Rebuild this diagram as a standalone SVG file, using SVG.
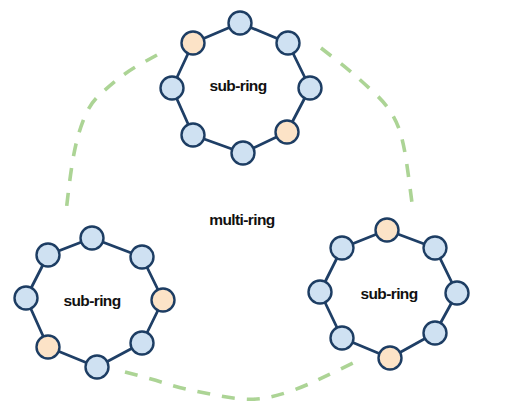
<svg xmlns="http://www.w3.org/2000/svg" width="521" height="405" viewBox="0 0 521 405">
<style>
.bg{fill:#ffffff}
.dash{fill:none;stroke:#acd495;stroke-width:3.6;stroke-dasharray:13 12;stroke-linecap:butt}
.edge{fill:none;stroke:#1f3f66;stroke-width:2.8;stroke-linejoin:round}
.nb{fill:#cfe1f2;stroke:#1d3d63;stroke-width:2.4}
.nt{fill:#fce3c7;stroke:#1d3d63;stroke-width:2.4}
.lbl{font-family:"Liberation Sans",Arial,sans-serif;font-weight:bold;font-size:15.5px;fill:#111111;text-anchor:middle;letter-spacing:-0.6px}
</style>
<rect class="bg" x="0" y="0" width="521" height="405"/>
<g id="multi-ring-boundary">
<path class="dash" d="M157,55 L142.5,63 Q128,71 118,79 Q108,87 99,95.5 Q90,104 85,116 Q80,128 77,140 Q74,152 72,165 Q70,178 68,195 L66,212"/>
<path class="dash" d="M321,48 L335,59 Q349,70 358,78 Q367,86 376.5,95 Q386,104 392,114 Q398,124 401,135 Q404,146 406,159 Q408,172 410,187.5 L412,203"/>
<path class="dash" d="M125,372 L140,376 Q155,380 167.5,384 Q180,388 192.5,390.5 Q205,393 217.5,395.5 Q230,398 243,399 Q256,400 268,397.5 Q280,395 292.5,390.5 Q305,386 316.5,380.5 Q328,375 340.5,369 L353,363"/>
</g>
<g id="connectors">
<polygon class="edge" points="240,23 288,43 310,88 287,132 243,153 193,135 172,88 193,43"/>
<polygon class="edge" points="92,238 142,257 163,300 142,343 97,367 48,347 26,298 48,255"/>
<polygon class="edge" points="387,230 435,248 457,293 435,333 390,358 342,338 320,292 342,248"/>
</g>
<g id="ring-top">
<g id="t1"><circle class="nb" cx="240" cy="23" r="11.5"/></g>
<g id="t2"><circle class="nb" cx="288" cy="43" r="11.5"/></g>
<g id="t3"><circle class="nb" cx="310" cy="88" r="11.5"/></g>
<g id="t4"><circle class="nt" cx="287" cy="132" r="11.5"/></g>
<g id="t5"><circle class="nb" cx="243" cy="153" r="11.5"/></g>
<g id="t6"><circle class="nb" cx="193" cy="135" r="11.5"/></g>
<g id="t7"><circle class="nb" cx="172" cy="88" r="11.5"/></g>
<g id="t8"><circle class="nt" cx="193" cy="43" r="11.5"/></g>
</g>
<g id="ring-left">
<g id="l1"><circle class="nb" cx="92" cy="238" r="11.5"/></g>
<g id="l2"><circle class="nb" cx="142" cy="257" r="11.5"/></g>
<g id="l3"><circle class="nt" cx="163" cy="300" r="11.5"/></g>
<g id="l4"><circle class="nb" cx="142" cy="343" r="11.5"/></g>
<g id="l5"><circle class="nb" cx="97" cy="367" r="11.5"/></g>
<g id="l6"><circle class="nt" cx="48" cy="347" r="11.5"/></g>
<g id="l7"><circle class="nb" cx="26" cy="298" r="11.5"/></g>
<g id="l8"><circle class="nb" cx="48" cy="255" r="11.5"/></g>
</g>
<g id="ring-right">
<g id="r1"><circle class="nt" cx="387" cy="230" r="11.5"/></g>
<g id="r2"><circle class="nb" cx="435" cy="248" r="11.5"/></g>
<g id="r3"><circle class="nb" cx="457" cy="293" r="11.5"/></g>
<g id="r4"><circle class="nb" cx="435" cy="333" r="11.5"/></g>
<g id="r5"><circle class="nt" cx="390" cy="358" r="11.5"/></g>
<g id="r6"><circle class="nb" cx="342" cy="338" r="11.5"/></g>
<g id="r7"><circle class="nb" cx="320" cy="292" r="11.5"/></g>
<g id="r8"><circle class="nb" cx="342" cy="248" r="11.5"/></g>
</g>
<g id="labels">
<g id="label-top"><text class="lbl" x="238" y="91">sub-ring</text></g>
<g id="label-left"><text class="lbl" x="92" y="306">sub-ring</text></g>
<g id="label-right"><text class="lbl" x="389" y="299">sub-ring</text></g>
<g id="label-multi"><text class="lbl" x="242" y="225">multi-ring</text></g>
</g>
</svg>
